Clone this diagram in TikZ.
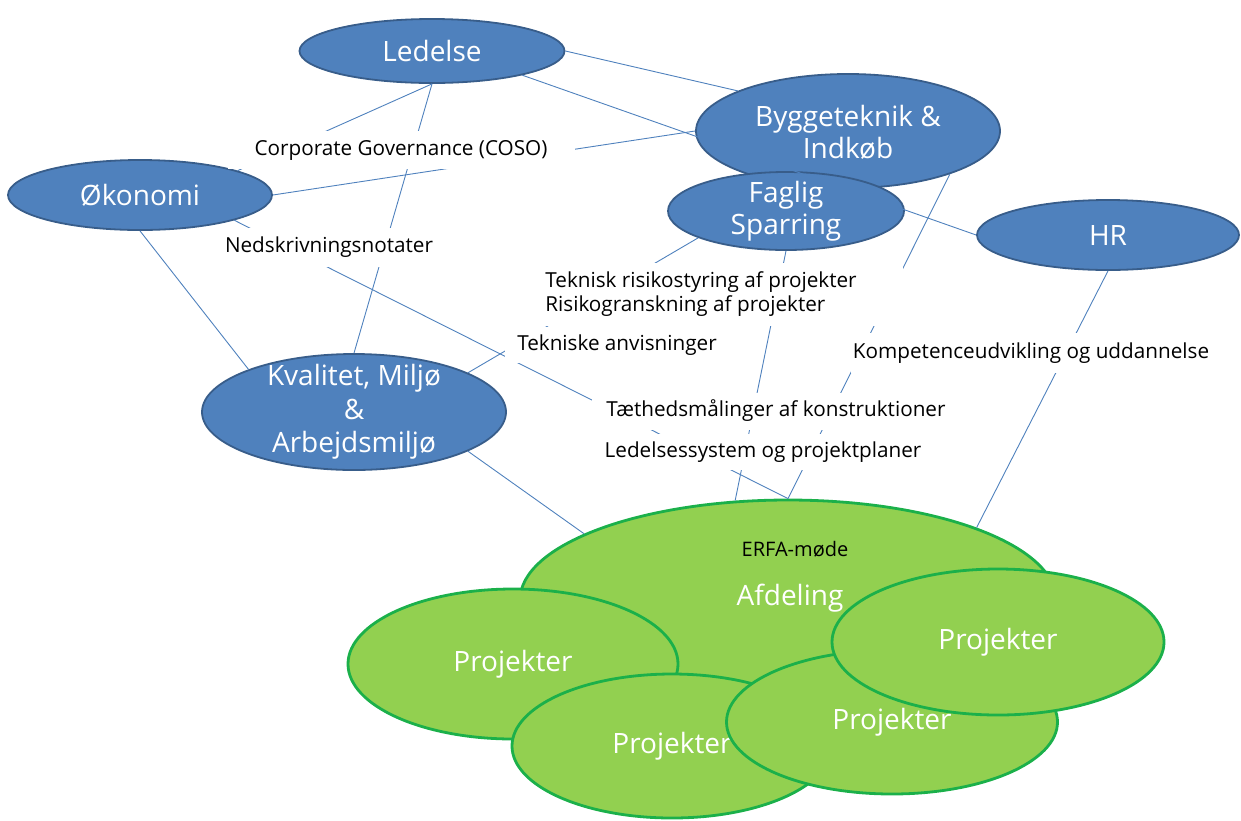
\documentclass[tikz,border=0pt]{standalone}
\usepackage{fontspec}
\setmainfont{Open Sans}
\usetikzlibrary{shapes.geometric}

\definecolor{bluefill}{HTML}{4F81BD}
\definecolor{blueedge}{HTML}{385D8A}
\definecolor{greenfill}{HTML}{92D050}
\definecolor{greenedge}{HTML}{1BB04A}

\begin{document}
\begin{tikzpicture}[x=1pt,y=-1pt,
    unit/.style={ellipse, draw=blueedge, fill=bluefill, line width=1.8pt, inner sep=0pt},
    group/.style={ellipse, draw=greenedge, fill=greenfill, line width=2.8pt, inner sep=0pt},
    name text/.style={text=white, align=center, inner sep=0pt, font=\fontsize{28}{32}\selectfont},
    topic/.style={fill=white, inner sep=0pt, align=left, font=\fontsize{20.7}{24}\selectfont},
    link/.style={draw=bluefill, line width=0.9pt}]
  \useasboundingbox (0,0) rectangle (1241,820);

  % enheder
  \node[unit, minimum width=265, minimum height=64] (led) at (432,51) {};
  \node[name text] (led-t) at (led) {Ledelse};
  \node[unit, minimum width=264, minimum height=70] (oko) at (140,195) {};
  \node[name text] (oko-t) at (oko) {Økonomi};
  \node[unit, minimum width=304, minimum height=114] (bygg) at (848,131) {};
  \node[name text] (bygg-t) at (848,132) {Byggeteknik \&\\Indkøb};
  \node[unit, minimum width=236, minimum height=78] (fag) at (786,211) {};
  \node[name text] (fag-t) at (fag) {Faglig\\Sparring};
  \node[unit, minimum width=262, minimum height=70] (hr) at (1108,235) {};
  \node[name text] (hr-t) at (hr) {HR};
  \node[unit, minimum width=304, minimum height=116] (kva) at (354,412) {};
  \node[name text, font=\fontsize{28}{33.5}\selectfont] (kva-t) at (kva) {Kvalitet, Miljø\\\&\\Arbejdsmiljø};

  % afdeling og projekter
  \node[group, minimum width=536, minimum height=200] (afd) at (788,600) {};
  \node[name text] (afd-t) at (790,598) {Afdeling};
  \node[inner sep=0pt, font=\fontsize{20}{22}\selectfont] (erfa) at (795,549) {ERFA-møde};
  \foreach \n/\x/\y/\w/\h in {p1/513/664/330/150, p2/672/746/320/144, p3/892/722/331/144, p4/998/642/332/146} {
    \node[group, minimum width=\w, minimum height=\h] (\n) at (\x,\y) {};
    \node[name text] (\n-t) at (\n) {Projekter};
  }

  % forbindelser
  \draw[link] (led.east) -- (bygg.160);
  \draw[link] (led.south) -- (oko.14);
  \draw[link] (led.south) -- (kva.north);
  \draw[link] (oko.east) -- (bygg.west);
  \draw[link] (oko.-15) -- (afd.north);
  \draw[link] (oko.south) -- (kva.158);
  \draw[link] (kva.19) -- (fag.-163);
  \draw[link] (kva.-19) -- (afd.162);
  \draw[link] (fag.south) -- (afd.118);
  \draw[link] (bygg.-23) -- (afd.north);
  \draw[link] (hr.south) -- (afd.21);
  \draw[link] (led.-15) -- (hr.west);

  % emner
  \node[topic, minimum width=347, minimum height=38] (cg) at (401,150) {Corporate Governance (COSO)};
  \node[topic, minimum width=230, minimum height=39] (ned) at (329,247) {Nedskrivningsnotater};
  \node[topic, minimum width=403, minimum height=63] (tek) at (701,294) {Teknisk risikostyring af projekter\\Risikogranskning af projekter};
  \node[topic, minimum width=224, minimum height=36] (tan) at (617,345) {Tekniske anvisninger};
  \node[topic, minimum width=360, minimum height=40] (kom) at (1031,353) {Kompetenceudvikling og uddannelse};
  \node[topic, minimum width=369, minimum height=37] (tae) at (776,411) {Tæthedsmålinger af konstruktioner};
  \node[topic, minimum width=340, minimum height=36] (lsy) at (763,452) {Ledelsessystem og projektplaner};
\end{tikzpicture}
\end{document}
